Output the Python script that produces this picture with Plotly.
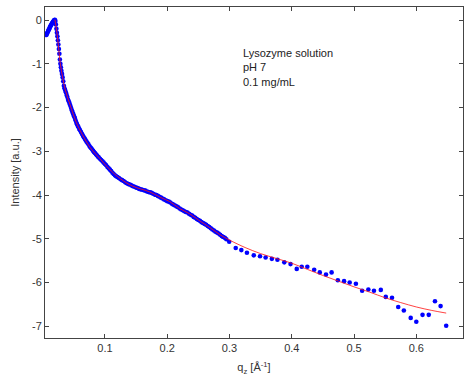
import plotly.graph_objects as go

# measured data: q_z [1/A] and log intensity
q_data = [0.0060, 0.0068, 0.0076, 0.0084, 0.0092, 0.0100, 0.0108, 0.0116, 0.0124, 0.0132,
          0.0140, 0.0148, 0.0156, 0.0164, 0.0172, 0.0180, 0.0188, 0.0196,
          0.0204, 0.0212, 0.0220, 0.0228, 0.0236, 0.0244, 0.0252, 0.0260, 0.0268, 0.0276,
          0.0284, 0.0292, 0.0300, 0.0310, 0.0320, 0.0330, 0.0340, 0.0350, 0.0360, 0.0372,
          0.0384, 0.0396, 0.0408, 0.0420, 0.0432, 0.0444, 0.0456, 0.0468, 0.0480, 0.0492,
          0.0504, 0.0516, 0.0528, 0.0540, 0.0552, 0.0564, 0.0576, 0.0588, 0.0600, 0.0615,
          0.0630, 0.0645, 0.0660, 0.0675, 0.0690, 0.0705, 0.0720, 0.0735, 0.0750, 0.0765,
          0.0780, 0.0795, 0.0810, 0.0825, 0.0840, 0.0855, 0.0870, 0.0885, 0.0900, 0.0920,
          0.0940, 0.0960, 0.0980, 0.1000, 0.1020, 0.1040, 0.1060, 0.1080, 0.1100, 0.1120,
          0.1140, 0.1160, 0.1180, 0.1200, 0.1225, 0.1250, 0.1275, 0.1300, 0.1325, 0.1350,
          0.1375, 0.1400, 0.1425, 0.1450, 0.1475, 0.1500, 0.1525, 0.1550, 0.1575, 0.1600,
          0.1625, 0.1650, 0.1675, 0.1700, 0.1725, 0.1750, 0.1775, 0.1800, 0.1825, 0.1850,
          0.1875, 0.1900, 0.1925, 0.1950, 0.1975, 0.2000, 0.2025, 0.2050, 0.2075, 0.2100,
          0.2125, 0.2150, 0.2175, 0.2200, 0.2225, 0.2250, 0.2275, 0.2300, 0.2325, 0.2350,
          0.2375, 0.2400, 0.2425, 0.2450, 0.2475, 0.2500, 0.2525, 0.2550, 0.2575, 0.2600,
          0.2625, 0.2650, 0.2675, 0.2700, 0.2725, 0.2750, 0.2775, 0.2800, 0.2825, 0.2850,
          0.2875, 0.2900, 0.2925, 0.2950, 0.2995,
          0.310, 0.319, 0.328, 0.339, 0.349, 0.358, 0.368, 0.377, 0.388, 0.398,
          0.408, 0.416, 0.425, 0.436, 0.445, 0.455, 0.464, 0.474, 0.484, 0.493,
          0.503, 0.513, 0.523, 0.532, 0.543, 0.551, 0.561, 0.571, 0.580, 0.591,
          0.600, 0.610, 0.620, 0.630, 0.639, 0.648]
i_data = [-0.34, -0.31, -0.29, -0.26, -0.24, -0.21, -0.19, -0.16, -0.14, -0.12,
          -0.10, -0.08, -0.06, -0.04, -0.03, -0.01, 0.00, 0.01,
          -0.02, -0.10, -0.20, -0.29, -0.37, -0.46, -0.56, -0.66, -0.77, -0.90,
          -1.00, -1.08, -1.16, -1.23, -1.31, -1.40, -1.50, -1.56, -1.60, -1.65,
          -1.71, -1.76, -1.82, -1.86, -1.91, -1.96, -2.01, -2.06, -2.11, -2.15,
          -2.20, -2.24, -2.29, -2.34, -2.38, -2.42, -2.45, -2.49, -2.52, -2.56,
          -2.60, -2.64, -2.68, -2.71, -2.75, -2.78, -2.81, -2.84, -2.88, -2.91,
          -2.93, -2.96, -2.99, -3.02, -3.04, -3.07, -3.09, -3.12, -3.14, -3.17,
          -3.20, -3.23, -3.26, -3.29, -3.32, -3.36, -3.39, -3.42, -3.45, -3.49,
          -3.52, -3.55, -3.57, -3.59, -3.61, -3.64, -3.66, -3.68, -3.71, -3.73,
          -3.75, -3.76, -3.78, -3.80, -3.81, -3.83, -3.84, -3.86, -3.87, -3.88,
          -3.89, -3.90, -3.92, -3.93, -3.94, -3.95, -3.97, -3.99, -4.00, -4.02,
          -4.04, -4.06, -4.08, -4.10, -4.12, -4.14, -4.15, -4.17, -4.20, -4.22,
          -4.24, -4.26, -4.28, -4.31, -4.33, -4.35, -4.37, -4.39, -4.40, -4.43,
          -4.45, -4.47, -4.50, -4.52, -4.55, -4.57, -4.59, -4.62, -4.64, -4.66,
          -4.68, -4.71, -4.73, -4.76, -4.79, -4.81, -4.84, -4.86, -4.88, -4.91,
          -4.94, -4.96, -4.98, -5.01, -5.07,
          -5.21, -5.26, -5.32, -5.38, -5.40, -5.43, -5.46, -5.48, -5.54, -5.58,
          -5.69, -5.64, -5.64, -5.71, -5.77, -5.82, -5.77, -5.95, -5.97, -6.00,
          -6.03, -6.19, -6.16, -6.19, -6.17, -6.33, -6.35, -6.56, -6.64, -6.81,
          -6.90, -6.74, -6.74, -6.43, -6.54, -6.99]

# fitted model curve
q_fit = [0.0196, 0.022, 0.025, 0.028, 0.032, 0.036, 0.044, 0.054, 0.060, 0.076,
         0.092, 0.110, 0.130, 0.145, 0.172, 0.190, 0.204, 0.220, 0.236, 0.250,
         0.269, 0.285, 0.300, 0.325, 0.350, 0.375, 0.400, 0.425, 0.450, 0.475,
         0.500, 0.525, 0.550, 0.575, 0.600, 0.625, 0.648]
i_fit = [0.01, -0.20, -0.55, -0.97, -1.31, -1.58, -1.94, -2.34, -2.52, -2.91,
         -3.17, -3.45, -3.68, -3.80, -3.93, -4.06, -4.15, -4.31, -4.43, -4.57,
         -4.75, -4.91, -5.03, -5.20, -5.34, -5.45, -5.56, -5.70, -5.84, -5.97,
         -6.10, -6.22, -6.35, -6.46, -6.56, -6.64, -6.70]

x_ticks = [0.1, 0.2, 0.3, 0.4, 0.5, 0.6]
x_ticktext = ["0.1", "0.2", "0.3", "0.4", "0.5", "0.6"]
y_ticks = [0, -1, -2, -3, -4, -5, -6, -7]
y_ticktext = ["0", "-1", "-2", "-3", "-4", "-5", "-6", "-7"]

annotation_text = "Lysozyme solution<br>pH 7<br>0.1 mg/mL"

fig = go.Figure()
fig.add_trace(go.Scatter(x=q_data, y=i_data, mode="markers",
                         marker=dict(color="#0000ff", size=4.6, line=dict(width=0)),
                         showlegend=False))
fig.add_trace(go.Scatter(x=q_fit, y=i_fit, mode="lines", line_shape="spline",
                         line=dict(color="rgba(255,20,20,0.8)", width=1), showlegend=False))

axis_common = dict(showline=True, linecolor="#444444", linewidth=1, mirror="ticks",
                   ticks="inside", ticklen=4, tickcolor="#444444", showgrid=False,
                   zeroline=False, tickfont=dict(family="Liberation Sans, Arial", size=11, color="#333333"))

fig.update_xaxes(range=[0.0037, 0.675], tickvals=x_ticks, ticktext=x_ticktext,
                 title=dict(text="q<sub>z</sub> [Å<sup>-1</sup>]", standoff=10,
                            font=dict(family="Liberation Sans, Arial", size=11, color="#333333")),
                 **axis_common)
fig.update_yaxes(range=[-7.27, 0.3], tickvals=y_ticks, ticktext=y_ticktext,
                 title=dict(text="Intensity [a.u.]", standoff=10,
                            font=dict(family="Liberation Sans, Arial", size=11, color="#333333")),
                 **axis_common)

fig.add_annotation(x=0.469, y=0.885, xref="paper", yref="paper", xanchor="left", yanchor="top",
                   text=annotation_text, showarrow=False, align="left",
                   font=dict(family="Liberation Sans, Arial", size=11, color="#222222"))

fig.update_layout(width=464, height=380, margin=dict(l=45, r=1, t=7, b=42),
                  plot_bgcolor="white", paper_bgcolor="white")

fig.write_html("out.html")
